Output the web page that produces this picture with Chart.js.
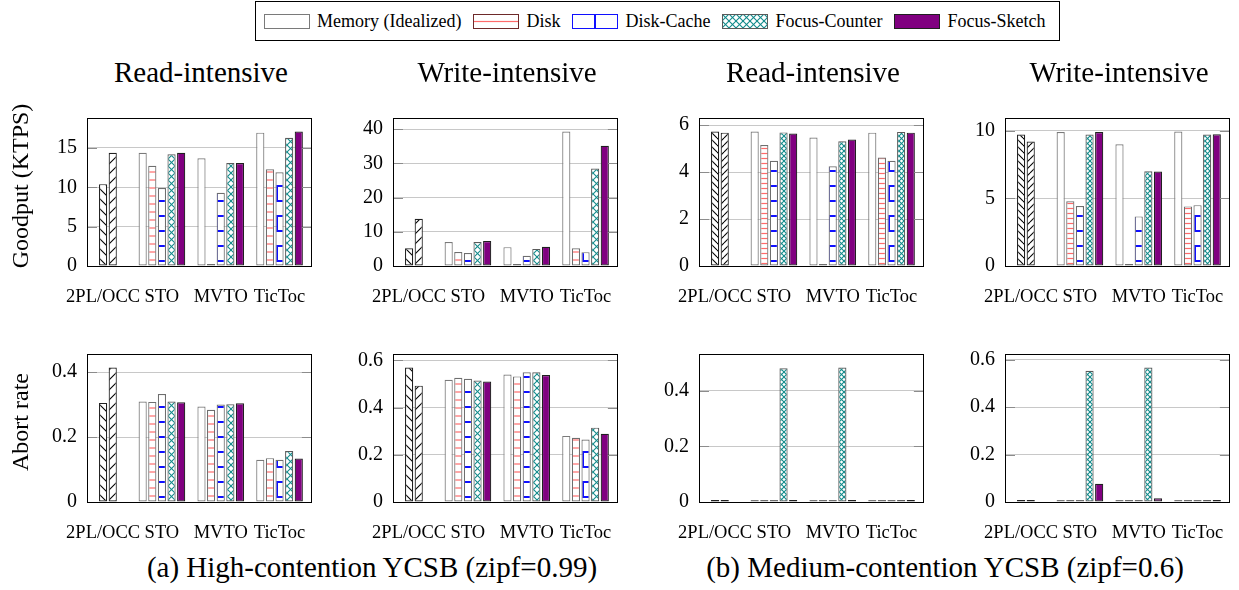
<!DOCTYPE html>
<html>
<head>
<meta charset="utf-8">
<script src="https://cdn.jsdelivr.net/npm/chart.js@4.4.0/dist/chart.umd.min.js"></script>
<style>
  html, body { margin: 0; padding: 0; background: #fff; }
  body { width: 1239px; height: 590px; position: relative; overflow: hidden; font-family: "Liberation Serif", "Times New Roman", serif; color: #000; }
  .plot { position: absolute; }
  .title { position: absolute; font-size: 29px; line-height: 1; white-space: nowrap; transform: translateX(-50%); }
  .caption { position: absolute; font-size: 29px; line-height: 1; white-space: nowrap; transform: translateX(-50%); }
  .ylab { position: absolute; font-size: 24px; line-height: 1; white-space: nowrap; transform: translate(-50%, -50%) rotate(-90deg); }
  #legend { position: absolute; left: 255px; top: 1px; height: 38px; border: 1px solid #000; display: flex; align-items: center; padding: 0 8px; box-sizing: content-box; font-size: 18px; white-space: nowrap; }
  #legend .sw { display: block; margin-right: 7px; }
  #legend .lt { margin-right: 12px; }
  #legend .lt:last-child { margin-right: 6px; }
</style>
</head>
<body>
<div id="legend"></div>

<script>
// ---------------- data ----------------
const categories = ['2PL/OCC', 'STO', 'MVTO', 'TicToc'];
const seriesNames = ['Memory (Idealized)', 'Disk', 'Disk-Cache', 'Focus-Counter', 'Focus-Sketch'];
const baselineNames = ['2PL', 'OCC'];

// (a) High-contention YCSB (zipf=0.99)
// baselines: [2PL, OCC] in the 2PL/OCC group
// series rows: Memory, Disk, Disk-Cache, Focus-Counter, Focus-Sketch; columns: STO, MVTO, TicToc
const highReadGoodputBase = [10.4, 14.4];
const highReadGoodput = [
  [14.4, 13.7, 16.95],
  [12.75, 0.1, 12.3],
  [9.9, 9.3, 11.9],
  [14.2, 13.1, 16.3],
  [14.4, 13.1, 17.1]
];
const highWriteGoodputBase = [5.2, 13.8];
const highWriteGoodput = [
  [7.0, 5.5, 39.3],
  [4.1, 0.1, 5.2],
  [3.8, 3.0, 4.05],
  [7.0, 5.0, 28.5],
  [7.3, 5.6, 35.1]
];
const highReadAbortBase = [0.305, 0.414];
const highReadAbort = [
  [0.309, 0.294, 0.130],
  [0.308, 0.284, 0.135],
  [0.332, 0.300, 0.130],
  [0.309, 0.301, 0.157],
  [0.307, 0.304, 0.134]
];
const highWriteAbortBase = [0.570, 0.493];
const highWriteAbort = [
  [0.518, 0.540, 0.280],
  [0.526, 0.532, 0.272],
  [0.522, 0.550, 0.265],
  [0.515, 0.550, 0.315],
  [0.510, 0.538, 0.289]
];

// (b) Medium-contention YCSB (zipf=0.6)
const medReadGoodputBase = [5.73, 5.68];
const medReadGoodput = [
  [5.73, 5.47, 5.68],
  [5.15, 0.05, 4.62],
  [4.48, 4.25, 4.48],
  [5.69, 5.31, 5.71],
  [5.64, 5.39, 5.68]
];
const medWriteGoodputBase = [9.7, 9.19];
const medWriteGoodput = [
  [9.89, 8.99, 9.93],
  [4.77, 0.05, 4.4],
  [4.42, 3.66, 4.49],
  [9.7, 6.99, 9.7],
  [9.89, 6.97, 9.72]
];
const medReadAbortBase = [0, 0];
const medReadAbort = [
  [0, 0, 0],
  [0, 0, 0],
  [0, 0, 0],
  [0.481, 0.484, 0],
  [0, 0, 0]
];
const medWriteAbortBase = [0.004, 0];
const medWriteAbort = [
  [0, 0, 0],
  [0, 0, 0],
  [0, 0, 0],
  [0.553, 0.567, 0],
  [0.077, 0.016, 0]
];

// tick values
const ticksHighReadGoodput = [0, 5, 10, 15];
const ticksHighWriteGoodput = [0, 10, 20, 30, 40];
const ticksMedReadGoodput = [0, 2, 4, 6];
const ticksMedWriteGoodput = [0, 5, 10];
const ticksHighReadAbort = [0, 0.2, 0.4];
const ticksHighWriteAbort = [0, 0.2, 0.4, 0.6];
const ticksMedReadAbort = [0, 0.2, 0.4];
const ticksMedWriteAbort = [0, 0.2, 0.4, 0.6];

const panelTitles = ['Read-intensive', 'Write-intensive', 'Read-intensive', 'Write-intensive'];
const yLabels = ['Goodput (KTPS)', 'Abort rate'];
const captions = ['(a) High-contention YCSB (zipf=0.99)', '(b) Medium-contention YCSB (zipf=0.6)'];

// ---------------- styling ----------------
const FONT = '"Liberation Serif", "Times New Roman", serif';
const FIG_A = { disk: 8, diag: 10, cross: 7, brick: 15 };
const FIG_B = { disk: 5, diag: 7, cross: 5, brick: 15 };
const FIG_LEGEND = { disk: 15, diag: 10, cross: 7, brick: 15 };

function makePattern(kind, s) {
  const size = kind === 'bricks' ? 2 * s : s;
  const c = document.createElement('canvas');
  c.width = size; c.height = size;
  const g = c.getContext('2d');
  g.fillStyle = '#fff';
  g.fillRect(0, 0, size, size);
  if (kind === 'nw' || kind === 'ne') {
    g.strokeStyle = '#000'; g.lineWidth = 1.1;
    for (let k = -1; k <= 1; k++) {
      g.beginPath();
      if (kind === 'nw') { g.moveTo(0, k * s); g.lineTo(s, (k + 1) * s); }
      else { g.moveTo(0, (k + 1) * s); g.lineTo(s, k * s); }
      g.stroke();
    }
  }
  if (kind === 'cross') {
    g.strokeStyle = '#118a8a'; g.lineWidth = 1.1;
    for (let k = -1; k <= 1; k++) {
      g.beginPath(); g.moveTo(0, k * s); g.lineTo(s, (k + 1) * s); g.stroke();
      g.beginPath(); g.moveTo(0, (k + 1) * s); g.lineTo(s, k * s); g.stroke();
    }
  }
  if (kind === 'hlines') {
    g.strokeStyle = '#ff6a6a'; g.lineWidth = 1.2;
    g.beginPath(); g.moveTo(0, s / 2); g.lineTo(s, s / 2); g.stroke();
  }
  if (kind === 'bricks') {
    g.strokeStyle = '#1010ff'; g.lineWidth = 2;
    g.beginPath();
    g.moveTo(0, 0); g.lineTo(size, 0);
    g.moveTo(0, s); g.lineTo(size, s);
    g.moveTo(0, size); g.lineTo(size, size);
    g.moveTo(0, 0); g.lineTo(0, s);
    g.moveTo(size, 0); g.lineTo(size, s);
    g.moveTo(s, s); g.lineTo(s, size);
    g.stroke();
  }
  return g.createPattern(c, 'repeat');
}

function seriesStyles(fig) {
  return {
    series: [
      { bg: '#ffffff', border: '#7a7a7a' },
      { bg: makePattern('hlines', fig.disk), border: '#6e6e6e' },
      { bg: makePattern('bricks', fig.brick), border: '#6e6e6e' },
      { bg: makePattern('cross', fig.cross), border: '#5a5a5a' },
      { bg: '#800080', border: '#202020' }
    ],
    base: [
      { bg: makePattern('nw', fig.diag), border: '#202020' },
      { bg: makePattern('ne', fig.diag), border: '#202020' }
    ]
  };
}

// frame + inner tick marks
const framePlugin = {
  id: 'frame',
  afterDraw(chart) {
    const { ctx, chartArea: a, scales: { y } } = chart;
    ctx.save();
    ctx.strokeStyle = '#8c8c8c';
    ctx.lineWidth = 1;
    y.ticks.forEach(t => {
      const py = Math.round(y.getPixelForValue(t.value)) + 0.5;
      ctx.beginPath();
      ctx.moveTo(a.left, py); ctx.lineTo(a.left + 10, py);
      ctx.moveTo(a.right - 10, py); ctx.lineTo(a.right, py);
      ctx.stroke();
    });
    ctx.strokeStyle = '#000';
    ctx.strokeRect(Math.round(a.left) + 0.5, Math.round(a.top) + 0.5,
                   Math.round(a.right - a.left) - 1, Math.round(a.bottom - a.top));
    ctx.restore();
  }
};

const PAD_L = 80, PAD_T = 12, PAD_R = 12, XAX_H = 48, AREA_W = 228, AREA_H = 158;

function makePanel(left, top, baseVals, barVals, ticks, fig) {
  const cv = document.createElement('canvas');
  cv.className = 'plot';
  cv.width = PAD_L + AREA_W + PAD_R;
  cv.height = PAD_T + AREA_H + XAX_H;
  cv.style.left = (left - PAD_L) + 'px';
  cv.style.top = (top - PAD_T) + 'px';
  document.body.appendChild(cv);

  const st = seriesStyles(fig);
  const stacks = ['s0', 's1', 's2', 's3', 's4'];
  const datasets = [];
  barVals.forEach((vals, si) => {
    datasets.push({
      label: seriesNames[si],
      stack: stacks[si],
      data: categories.map((c, ci) => ({ x: ci, y: ci === 0 ? null : vals[ci - 1] })),
      backgroundColor: st.series[si].bg,
      borderColor: st.series[si].border
    });
  });
  // 2PL and OCC share slots 2 and 3 of the 2PL/OCC group
  baseVals.forEach((v, bi) => {
    datasets.push({
      label: baselineNames[bi],
      stack: stacks[2 + bi],
      data: categories.map((c, ci) => ({ x: ci, y: ci === 0 ? v : null })),
      backgroundColor: st.base[bi].bg,
      borderColor: st.base[bi].border
    });
  });

  let maxVal = 0;
  barVals.forEach(r => r.forEach(v => { if (v > maxVal) maxVal = v; }));
  baseVals.forEach(v => { if (v > maxVal) maxVal = v; });

  new Chart(cv, {
    type: 'bar',
    data: { datasets },
    plugins: [framePlugin],
    options: {
      responsive: false,
      animation: false,
      events: [],
      layout: { padding: { top: PAD_T, right: PAD_R, left: 0, bottom: 0 } },
      datasets: {
        bar: {
          categoryPercentage: 0.818,
          barPercentage: 0.85,
          borderWidth: 1.2,
          borderSkipped: false,
          minBarLength: 2
        }
      },
      plugins: { legend: { display: false }, tooltip: { enabled: false } },
      scales: {
        x: {
          type: 'linear',
          min: -0.274,
          max: 3.55,
          offset: false,
          afterBuildTicks: ax => { ax.ticks = categories.map((c, i) => ({ value: i })); },
          afterFit: ax => { ax.height = XAX_H; },
          grid: { display: false, drawTicks: false },
          border: { display: true, color: '#000', width: 1 },
          ticks: {
            autoSkip: false, maxRotation: 0, minRotation: 0,
            padding: 20,
            color: '#000',
            font: { family: FONT, size: 18.5 },
            callback: v => categories[v]
          }
        },
        y: {
          min: 0,
          max: maxVal * 1.1,
          afterBuildTicks: ax => { ax.ticks = ticks.map(v => ({ value: v })); },
          afterFit: ax => { ax.width = PAD_L; },
          grid: { color: '#c8c8c8', lineWidth: 1, drawTicks: false },
          border: { display: true, color: '#000', width: 1 },
          ticks: {
            padding: 10,
            color: '#000',
            font: { family: FONT, size: 20 },
            callback: v => String(v)
          }
        }
      }
    }
  });
}

// ---------------- layout ----------------
const colLeft = [87, 393, 699, 1005];
const rowTop = [108, 344];

makePanel(colLeft[0], rowTop[0], highReadGoodputBase, highReadGoodput, ticksHighReadGoodput, FIG_A);
makePanel(colLeft[1], rowTop[0], highWriteGoodputBase, highWriteGoodput, ticksHighWriteGoodput, FIG_A);
makePanel(colLeft[2], rowTop[0], medReadGoodputBase, medReadGoodput, ticksMedReadGoodput, FIG_B);
makePanel(colLeft[3], rowTop[0], medWriteGoodputBase, medWriteGoodput, ticksMedWriteGoodput, FIG_B);
makePanel(colLeft[0], rowTop[1], highReadAbortBase, highReadAbort, ticksHighReadAbort, FIG_A);
makePanel(colLeft[1], rowTop[1], highWriteAbortBase, highWriteAbort, ticksHighWriteAbort, FIG_A);
makePanel(colLeft[2], rowTop[1], medReadAbortBase, medReadAbort, ticksMedReadAbort, FIG_B);
makePanel(colLeft[3], rowTop[1], medWriteAbortBase, medWriteAbort, ticksMedWriteAbort, FIG_B);

function addText(cls, text, x, y) {
  const d = document.createElement('div');
  d.className = cls;
  d.textContent = text;
  d.style.left = x + 'px';
  d.style.top = y + 'px';
  document.body.appendChild(d);
}
panelTitles.forEach((t, i) => addText('title', t, colLeft[i] + AREA_W / 2, 57.7));
addText('ylab', yLabels[0], 20, 186);
addText('ylab', yLabels[1], 20, 422);
addText('caption', captions[0], 372, 553);
addText('caption', captions[1], 945, 553);

// legend
(function buildLegend() {
  const lg = document.getElementById('legend');
  const st = seriesStyles(FIG_LEGEND);
  const swBorder = ['#7a7a7a', '#6e2a2a', '#1010ff', '#5a5a5a', '#202020'];
  seriesNames.forEach((name, i) => {
    const c = document.createElement('canvas');
    c.width = 46; c.height = 15; c.className = 'sw';
    const g = c.getContext('2d');
    g.save();
    if (i === 2) g.translate(-7, 0);
    g.fillStyle = st.series[i].bg;
    g.fillRect(0, 0, 60, 15);
    g.restore();
    g.strokeStyle = swBorder[i];
    g.lineWidth = 1;
    g.strokeRect(0.5, 0.5, 45, 14);
    lg.appendChild(c);
    const s = document.createElement('span');
    s.className = 'lt';
    s.textContent = name;
    lg.appendChild(s);
  });
})();
</script>
</body>
</html>
